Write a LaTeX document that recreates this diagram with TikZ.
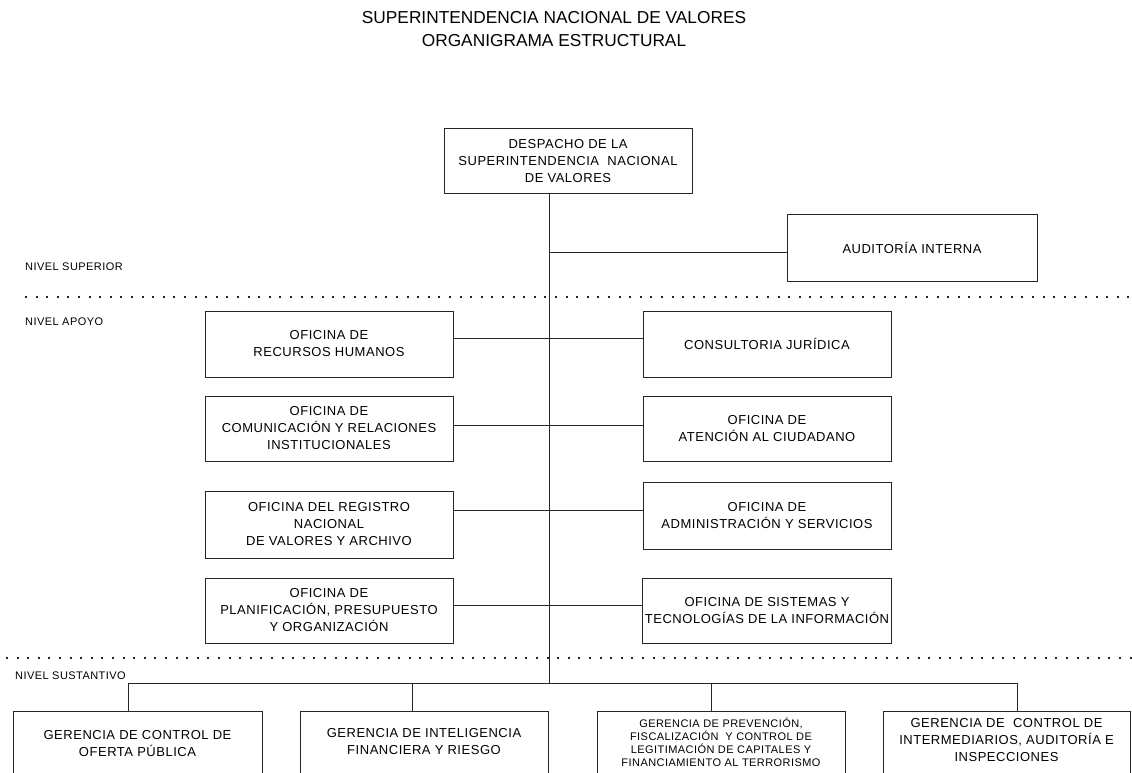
\documentclass[tikz,border=0pt]{standalone}
\usepackage{fontspec}
\setmainfont{Liberation Sans}
\newfontfamily\boxfont[LetterSpace=4]{Liberation Sans}
\tikzset{
  box/.style={draw=black!85, line width=1pt, rectangle, inner sep=2pt, align=center,
    font=\boxfont\fontsize{13}{17}\selectfont},
  gtext/.style={align=center, inner sep=0pt, font=\boxfont\fontsize{13}{17}\selectfont},
  smalltext/.style={align=center, inner sep=0pt, font=\boxfont\fontsize{11}{13}\selectfont},
  lvl/.style={anchor=west, inner sep=0pt, font=\boxfont\fontsize{11}{13}\selectfont},
  conn/.style={draw=black!85, line width=1pt},
  dots/.style={draw=black!85, line width=2pt, dash pattern=on 2pt off 8.6pt}
}
\begin{document}
\begin{tikzpicture}[x=1pt,y=-1pt]
\clip (0,0) rectangle (1132,773);
\useasboundingbox (0,0) rectangle (1132,773);
% title
\node[align=center, inner sep=0pt, font=\fontsize{17.3}{23}\selectfont] (title) at (554,29.5)
  {SUPERINTENDENCIA NACIONAL DE VALORES\\ORGANIGRAMA ESTRUCTURAL};
% top
\node[box, minimum width=248pt, minimum height=64pt] (desp) at (568,161)
  {DESPACHO DE LA\\SUPERINTENDENCIA\ \ NACIONAL\\DE VALORES};
\node[box, minimum width=250pt, minimum height=67pt] (aud) at (912,247.5)
  {AUDITORÍA INTERNA};
% levels
\node[lvl] (nsup) at (25,267) {NIVEL SUPERIOR};
\node[lvl] (napo) at (25,322) {NIVEL APOYO};
\node[lvl] (nsus) at (15,676) {NIVEL SUSTANTIVO};
\coordinate (d1a) at (25,297);
\coordinate (d1b) at (1134,297);
\coordinate (d2a) at (6,658);
\coordinate (d2b) at (1134,658);
\draw[dots] (d1a) -- (d1b);
\draw[dots] (d2a) -- (d2b);
% support boxes
\node[box, minimum width=248pt, minimum height=66pt] (l1) at (329,344)
  {OFICINA DE\\RECURSOS HUMANOS};
\node[box, minimum width=248pt, minimum height=65pt] (l2) at (329,428.5)
  {OFICINA DE\\COMUNICACIÓN Y RELACIONES\\INSTITUCIONALES};
\node[box, minimum width=248pt, minimum height=67pt] (l3) at (329,524.5)
  {OFICINA DEL REGISTRO\\NACIONAL\\DE VALORES Y ARCHIVO};
\node[box, minimum width=248pt, minimum height=65pt] (l4) at (329,610.5)
  {OFICINA DE\\PLANIFICACIÓN, PRESUPUESTO\\Y ORGANIZACIÓN};
\node[box, minimum width=248pt, minimum height=66pt] (r1) at (767,344)
  {CONSULTORIA JURÍDICA};
\node[box, minimum width=248pt, minimum height=65pt] (r2) at (767,428.5)
  {OFICINA DE\\ATENCIÓN AL CIUDADANO};
\node[box, minimum width=248pt, minimum height=67pt] (r3) at (767,515.5)
  {OFICINA DE\\ADMINISTRACIÓN Y SERVICIOS};
\node[box, minimum width=248pt, minimum height=65pt] (r4) at (767,610.5)
  {OFICINA DE SISTEMAS Y\\TECNOLOGÍAS DE LA INFORMACIÓN};
% trunk coordinates
\coordinate (tA) at (549,252);
\coordinate (t1) at (549,338);
\coordinate (t2) at (549,425);
\coordinate (t3) at (549,510);
\coordinate (t4) at (549,605.5);
\coordinate (tb) at (549,683);
% bottom boxes
\node[box, minimum width=249pt, minimum height=89pt] (g1) at (137.5,755.5) {};
\node[box, minimum width=248pt, minimum height=89pt] (g2) at (424,755.5) {};
\node[box, minimum width=248pt, minimum height=89pt] (g3) at (721,755.5) {};
\node[box, minimum width=247pt, minimum height=89pt] (g4) at (1006.5,755.5) {};
\node[gtext] (g1t) at ([yshift=-33pt]g1.north) {GERENCIA DE CONTROL DE\\OFERTA PÚBLICA};
\node[gtext] (g2t) at ([yshift=-31pt]g2.north) {GERENCIA DE INTELIGENCIA\\FINANCIERA Y RIESGO};
\node[smalltext] (g3t) at ([yshift=-31.5pt]g3.north)
  {GERENCIA DE PREVENCIÓN,\\FISCALIZACIÓN\ \ Y CONTROL DE\\LEGITIMACIÓN DE CAPITALES Y\\FINANCIAMIENTO AL TERRORISMO};
\node[gtext] (g4t) at ([yshift=-30pt]g4.north) {GERENCIA DE\ \ CONTROL DE\\INTERMEDIARIOS, AUDITORÍA E\\INSPECCIONES};
\coordinate (b1) at (128,683);
\coordinate (b2) at (412,683);
\coordinate (b3) at (711,683);
\coordinate (b4) at (1017,683);
% connectors
\draw[conn] (desp.south -| tb) -- (tb);
\draw[conn] (tA) -- (aud.west |- tA);
\draw[conn] (l1.east |- t1) -- (r1.west |- t1);
\draw[conn] (l2.east |- t2) -- (r2.west |- t2);
\draw[conn] (l3.east |- t3) -- (r3.west |- t3);
\draw[conn] (l4.east |- t4) -- (r4.west |- t4);
\draw[conn] (b1) -- (b4);
\draw[conn] (b1) -- (b1 |- g1.north);
\draw[conn] (b2) -- (b2 |- g2.north);
\draw[conn] (b3) -- (b3 |- g3.north);
\draw[conn] (b4) -- (b4 |- g4.north);
\end{tikzpicture}
\end{document}
